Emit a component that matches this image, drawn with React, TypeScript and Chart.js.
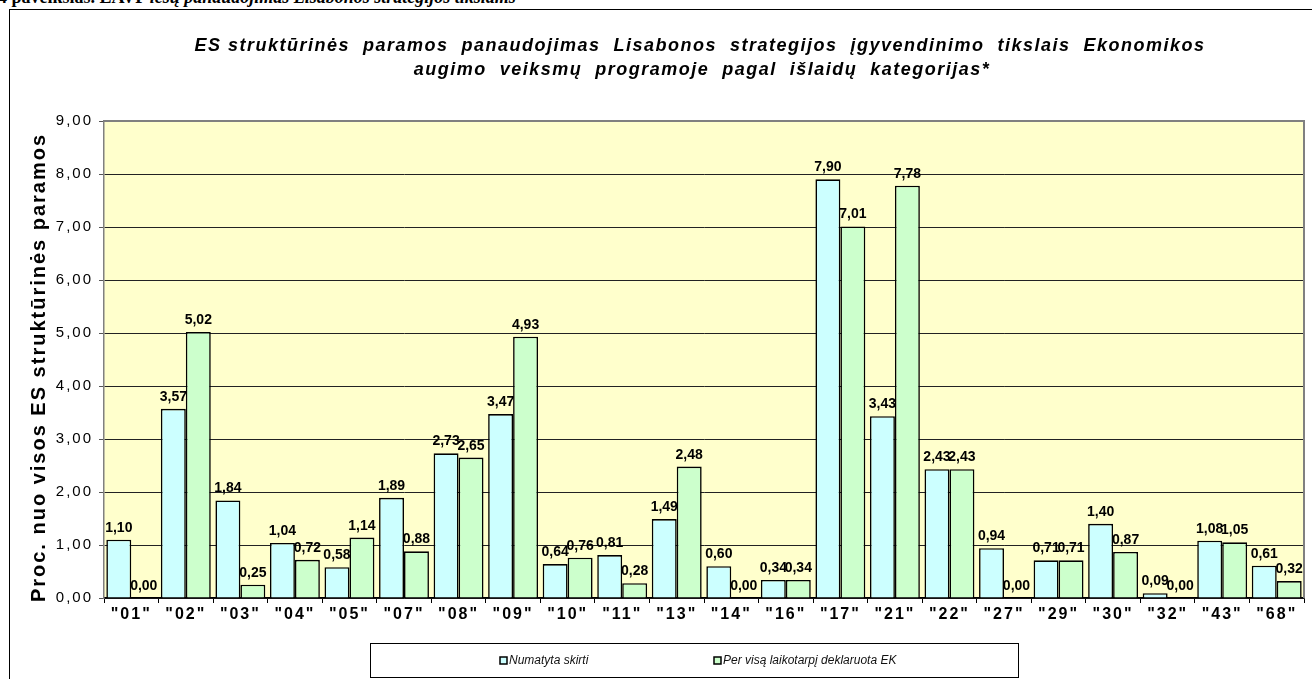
import React, { useEffect, useRef } from "react";
import { Chart, registerables } from "chart.js";

Chart.register(...registerables);

const categories = ['"01"', '"02"', '"03"', '"04"', '"05"', '"07"', '"08"', '"09"', '"10"', '"11"', '"13"', '"14"', '"16"', '"17"', '"21"', '"22"', '"27"', '"29"', '"30"', '"32"', '"43"', '"68"'];
const planned = [1.10, 3.57, 1.84, 1.04, 0.58, 1.89, 2.73, 3.47, 0.64, 0.81, 1.49, 0.60, 0.34, 7.90, 3.43, 2.43, 0.94, 0.71, 1.40, 0.09, 1.08, 0.61];
const declared = [0.00, 5.02, 0.25, 0.72, 1.14, 0.88, 2.65, 4.93, 0.76, 0.28, 2.48, 0.00, 0.34, 7.01, 7.78, 2.43, 0.00, 0.71, 0.87, 0.00, 1.05, 0.32];
const seriesLabels = ["Numatyta skirti", "Per visą laikotarpį deklaruota EK"];
const titleLines = [
  "ES struktūrinės  paramos  panaudojimas  Lisabonos  strategijos  įgyvendinimo  tikslais  Ekonomikos",
  "augimo  veiksmų  programoje  pagal  išlaidų  kategorijas*",
];
const yAxisTitle = "Proc. nuo visos ES struktūrinės paramos";
const captionBold = "4 paveikslas. EAVP ";
const captionItalic = "lėšų panaudojimas Lisabonos strategijos tikslams";
const yMin = 0;
const yMax = 9;
const yStep = 1;

const fmt = (v: number) => v.toFixed(2).replace(".", ",");
const FONT = "Arial, 'Liberation Sans', sans-serif";

const decorPlugin = {
  id: "decor",
  beforeDraw(chart: any) {
    const { ctx, chartArea: a } = chart;
    ctx.save();
    ctx.fillStyle = "#FFFFCC";
    ctx.fillRect(a.left, a.top, a.right - a.left, a.bottom - a.top);
    ctx.restore();
    (ctx as any).letterSpacing = "2px";
  },
  beforeDatasetsDraw(chart: any) {
    const { ctx, chartArea: a } = chart;
    (ctx as any).letterSpacing = "0px";
    ctx.save();
    ctx.strokeStyle = "#808080";
    ctx.lineWidth = 2;
    ctx.beginPath();
    ctx.moveTo(a.left, a.top);
    ctx.lineTo(a.right, a.top);
    ctx.lineTo(a.right, a.bottom);
    ctx.stroke();
    ctx.restore();
  },
  afterDatasetsDraw(chart: any) {
    const { ctx } = chart;
    ctx.save();
    ctx.fillStyle = "#000";
    ctx.font = `bold 14px ${FONT}`;
    ctx.textAlign = "center";
    ctx.textBaseline = "alphabetic";
    chart.data.datasets.forEach((ds: any, i: number) => {
      const meta = chart.getDatasetMeta(i);
      meta.data.forEach((el: any, j: number) => {
        ctx.fillText(fmt(ds.data[j]), el.x, el.y - 8);
      });
    });
    ctx.restore();
  },
  afterDraw(chart: any) {
    const { ctx, chartArea: a } = chart;
    ctx.save();
    // title
    ctx.fillStyle = "#000";
    (ctx as any).letterSpacing = "1.5px";
    ctx.font = `italic bold 18px ${FONT}`;
    ctx.textAlign = "center";
    ctx.textBaseline = "alphabetic";
    ctx.fillText(titleLines[0], 700, 51);
    ctx.fillText(titleLines[1], 702, 75);
    // y axis title
    ctx.save();
    ctx.translate(39, (a.top + a.bottom) / 2 + 8);
    ctx.rotate(-Math.PI / 2);
    (ctx as any).letterSpacing = "2px";
    ctx.font = `bold 20px ${FONT}`;
    ctx.textAlign = "center";
    ctx.textBaseline = "middle";
    ctx.fillText(yAxisTitle, 0, 0);
    ctx.restore();
    (ctx as any).letterSpacing = "0px";
    // legend box
    ctx.strokeStyle = "#000";
    ctx.lineWidth = 1;
    ctx.strokeRect(370.5, 643.5, 648, 34);
    const xs = [500, 714];
    ctx.font = `italic 12px ${FONT}`;
    ctx.textAlign = "left";
    ctx.textBaseline = "middle";
    chart.data.datasets.forEach((ds: any, i: number) => {
      ctx.fillStyle = ds.backgroundColor;
      ctx.fillRect(xs[i], 657, 7, 7);
      ctx.strokeStyle = "#000";
      ctx.lineWidth = 1.5;
      ctx.strokeRect(xs[i], 657, 7, 7);
      ctx.fillStyle = "#111";
      ctx.fillText(ds.label, xs[i] + 9, 661);
    });
    ctx.restore();
  },
};

export default function App() {
  const ref = useRef<HTMLCanvasElement>(null);
  useEffect(() => {
    if (!ref.current) return;
    const chart = new Chart(ref.current, {
      type: "bar",
      data: {
        labels: categories,
        datasets: [
          { label: seriesLabels[0], data: planned, backgroundColor: "#CCFFFF", borderColor: "#000", borderWidth: 1.6, categoryPercentage: 0.915, barPercentage: 1 },
          { label: seriesLabels[1], data: declared, backgroundColor: "#CCFFCC", borderColor: "#000", borderWidth: 1.6, categoryPercentage: 0.915, barPercentage: 1 },
        ],
      },
      options: {
        animation: false,
        responsive: false,
        devicePixelRatio: 1,
        layout: { padding: { left: 0, top: 121, right: 8, bottom: 0 } },
        plugins: { legend: { display: false }, title: { display: false }, tooltip: { enabled: false } },
        scales: {
          x: {
            grid: { display: true, drawOnChartArea: false, drawTicks: true, tickLength: 5, color: "#000", offset: true },
            border: { color: "#000", width: 1.5 },
            ticks: { font: { family: FONT, weight: "bold", size: 16 }, color: "#000", padding: 2, maxRotation: 0, autoSkip: false },
            afterFit: (s: any) => { s.height = 81; },
          },
          y: {
            min: yMin,
            max: yMax,
            ticks: { stepSize: yStep, callback: (v: any) => fmt(Number(v)), font: { family: FONT, size: 15 }, color: "#000", padding: 6 },
            grid: { color: "#222", tickLength: 5, drawTicks: true, tickColor: "#555" },
            border: { color: "#808080", width: 1.5 },
            afterFit: (s: any) => { s.width = 104; },
          },
        },
      },
      plugins: [decorPlugin],
    } as any);
    return () => chart.destroy();
  }, []);

  return (
    <div style={{ position: "fixed", left: 0, top: 0, width: 1312, height: 679, overflow: "hidden", background: "#fff" }}>
      <div style={{ position: "absolute", left: -2, top: -14, whiteSpace: "nowrap", fontFamily: "'Liberation Serif', 'Times New Roman', serif", fontSize: 18, lineHeight: "22px" }}>
        <b>{captionBold}</b>
        <b><i>{captionItalic}</i></b>
      </div>
      <div style={{ position: "absolute", left: 9, top: 9, width: 1400, height: 800, border: "1px solid #000", boxSizing: "border-box" }} />
      <canvas ref={ref} width={1312} height={679} style={{ position: "absolute", left: 0, top: 0, width: 1312, height: 679 }} />
    </div>
  );
}
